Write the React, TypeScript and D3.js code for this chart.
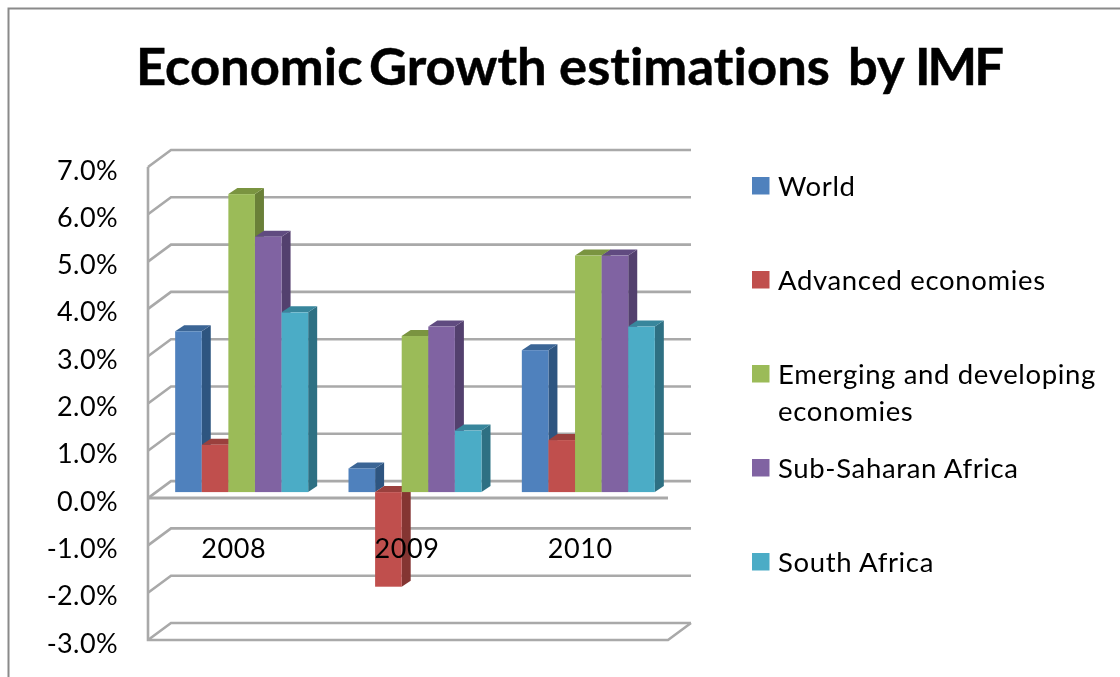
import React from "react";
import * as d3 from "d3";

const titleWords = ["Economic", "Growth", "estimations", "by", "IMF"];
const categories = ["2008", "2009", "2010"];
const seriesNames = ["World", "Advanced economies", "Emerging and developing economies", "Sub-Saharan Africa", "South Africa"];
const world = [3.4, 0.5, 3.0];
const advanced = [1.0, -2.0, 1.1];
const emerging = [6.3, 3.3, 5.0];
const subSaharan = [5.4, 3.5, 5.0];
const southAfrica = [3.8, 1.3, 3.5];
const seriesValues = [world, advanced, emerging, subSaharan, southAfrica];
const frontColors = ["#4f81bd", "#c0504d", "#9bbb59", "#8064a2", "#4bacc6"];
const sideColors = ["#2f5580", "#843533", "#6a8038", "#53406e", "#2e7083"];
const topColors = ["#3b6595", "#9a3f3d", "#7a9440", "#614c80", "#37869c"];
const ticks = [7, 6, 5, 4, 3, 2, 1, 0, -1, -2, -3];

const font = "Lato, 'Open Sans', sans-serif";
const gridColor = "#a9a9a9";
const titleX = [136, 369, 559, 848, 915];
const titleSpacing = [0, 0, 0.1, 0, -3];

const DX = 23, DY = 17;           // wall depth
const BDX = 9, BDY = 6;           // bar depth
const yFront = d3.scaleLinear().domain([-3, 7]).range([640, 167]);
const yBar = d3.scaleLinear().domain([-3, 7]).range([634, 161]);
const xFront = d3.scaleBand().domain(categories).range([148, 668]);
const xBarGroup = d3.scaleBand().domain(categories).range([155, 675]);
const groupInner = 133;
const xInner = d3.scaleBand().domain(seriesNames).range([0, groupInner]);

const legendY = [187, 281, 375, 469, 563];
const legendLines = [["World"], ["Advanced economies"], ["Emerging and developing", "economies"], ["Sub-Saharan Africa"], ["South Africa"]];

export default function App() {
  const line = d3.line();
  const xL = xFront.range()[0];
  const xR = xFront.range()[1];
  return (
    <svg width={1120} height={677} viewBox="0 0 1120 677" style={{ position: "fixed", left: 0, top: 0, background: "#fff" }}>
      <defs>
        <filter id="soft" x="-5%" y="-5%" width="110%" height="110%">
          <feGaussianBlur stdDeviation="0.6" />
        </filter>
        <filter id="softText" x="-5%" y="-5%" width="110%" height="110%">
          <feGaussianBlur stdDeviation="0.35" />
        </filter>
      </defs>
      <path d="M8.5 677V8.5H1120" fill="none" stroke="#8a8a8a" strokeWidth={2} />
      <g filter="url(#soft)">
        {ticks.map((t) => (
          <g key={t} fill="none" stroke={gridColor} strokeWidth={2.6}>
            <path d={line([[xL, yFront(t)], [xL + DX, yFront(t) - DY], [xR + DX, yFront(t) - DY]]) as string} />
          </g>
        ))}
        <path d={line([[xL, yFront(7)], [xL, yFront(-3)], [xR, yFront(-3)], [xR + DX, yFront(-3) - DY]]) as string} fill="none" stroke={gridColor} strokeWidth={2.6} />
        <path d={line([[xL, yFront(0)], [xR, yFront(0)]]) as string} fill="none" stroke={gridColor} strokeWidth={3} />
        {categories.map((c, ci) => {
          const gx = (xBarGroup(c) as number) + (xBarGroup.bandwidth() - groupInner) / 2;
          return (
            <g key={c}>
              {seriesNames.map((s, si) => {
                const v = seriesValues[si][ci];
                const x0 = gx + (xInner(s) as number);
                const w = xInner.bandwidth();
                const yTop = yBar(Math.max(v, 0));
                const yBot = yBar(Math.min(v, 0));
                const side = line([[x0 + w, yTop], [x0 + w + BDX, yTop - BDY], [x0 + w + BDX, yBot - BDY], [x0 + w, yBot]]) + "Z";
                const top = line([[x0, yTop], [x0 + BDX, yTop - BDY], [x0 + w + BDX, yTop - BDY], [x0 + w, yTop]]) + "Z";
                return (
                  <g key={s}>
                    <path d={side} fill={sideColors[si]} />
                    <path d={top} fill={topColors[si]} />
                    <rect x={x0} y={yTop} width={w} height={yBot - yTop} fill={frontColors[si]} />
                  </g>
                );
              })}
            </g>
          );
        })}
      </g>
      <g filter="url(#softText)">
        <text y={85} fontFamily={font} fontWeight={700} fontSize={52.5} fill="#000" stroke="#000" strokeWidth={0.5}>
          {titleWords.map((w, i) => (
            <tspan key={w} x={titleX[i]} letterSpacing={titleSpacing[i]}>{w + (i < titleWords.length - 1 ? " " : "")}</tspan>
          ))}
        </text>
        {ticks.map((t) => (
          <text key={t} x={118} y={yFront(t) + 12.5} textAnchor="end" fontFamily={font} fontSize={27} letterSpacing={0.4} fill="#000">{t.toFixed(1) + "%"}</text>
        ))}
        {categories.map((c) => (
          <text key={c} x={(xFront(c) as number) + xFront.bandwidth() / 2 - 1} y={558} textAnchor="middle" fontFamily={font} fontSize={27} letterSpacing={0.6} fill="#000">{c}</text>
        ))}
        {seriesNames.map((s, i) => (
          <g key={s}>
            <rect x={752} y={legendY[i] - 10} width={17.5} height={17.5} fill={frontColors[i]} />
            {legendLines[i].map((l, j) => (
              <text key={l} x={778} y={legendY[i] + 9 + j * 37} fontFamily={font} fontSize={27.5} letterSpacing={0.65} fill="#000">{l}</text>
            ))}
          </g>
        ))}
      </g>
    </svg>
  );
}
